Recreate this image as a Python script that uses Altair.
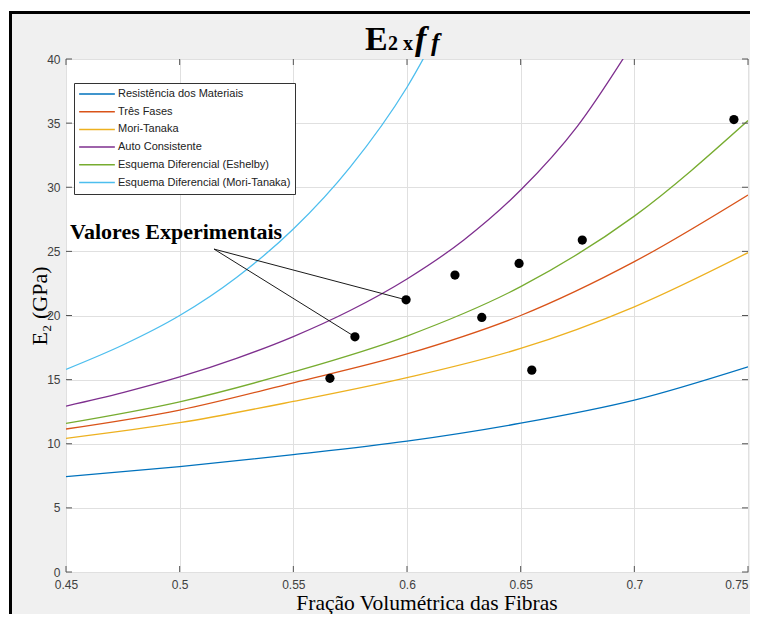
import altair as alt
import pandas as pd

# ---------------- data ----------------
MODELS = [
    "Resistência dos Materiais",
    "Três Fases",
    "Mori-Tanaka",
    "Auto Consistente",
    "Esquema Diferencial (Eshelby)",
    "Esquema Diferencial (Mori-Tanaka)",
]
COLORS = ["#0072BD", "#D95319", "#EDB120", "#7E2F8E", "#77AC30", "#4DBEEE"]

X_GRID = [0.45, 0.5, 0.55, 0.6, 0.65, 0.7, 0.75]
E_RM = [7.43, 8.21, 9.15, 10.2, 11.6, 13.4, 16.0]
E_TF = [11.15, 12.63, 14.75, 17.0, 20.0, 24.2, 29.4]
E_MT = [10.42, 11.64, 13.3, 15.15, 17.43, 20.68, 24.9]
E_DE = [11.59, 13.27, 15.6, 18.4, 22.25, 27.75, 35.2]

X_AC = [0.45, 0.475, 0.5, 0.525, 0.55, 0.575, 0.6, 0.625, 0.65, 0.675, 0.7]
E_AC = [12.94, 13.99, 15.21, 16.66, 18.36, 20.39, 22.85, 25.89, 29.78, 34.77, 41.4]

X_DMT = [0.45, 0.475, 0.5, 0.525, 0.55, 0.575, 0.6, 0.625]
E_DMT = [15.8, 17.7, 20.0, 22.97, 26.74, 31.57, 37.8, 46.1]

EXP_F = [0.5661, 0.5771, 0.5996, 0.6211, 0.6329, 0.6493, 0.6549, 0.6771, 0.7438]
EXP_E = [15.10, 18.34, 21.22, 23.15, 19.85, 24.06, 15.74, 25.88, 35.28]

X_TICKS = [0.45, 0.5, 0.55, 0.6, 0.65, 0.7, 0.75]
Y_TICKS = [0, 5, 10, 15, 20, 25, 30, 35, 40]

ANN_TEXT = "Valores Experimentais"
ANN_POS = (0.4518, 25.95)
ANN_ORIGIN = (0.5151, 25.18)
ANN_TARGETS = [2, 1]  # indices into experimental points

TITLE_X = "Fração Volumétrica das Fibras"
TITLE_Y = "E\u2082 (GPa)"

# ---------------- tables ----------------
rows = []
for name, xs, ys in [
    (MODELS[0], X_GRID, E_RM),
    (MODELS[1], X_GRID, E_TF),
    (MODELS[2], X_GRID, E_MT),
    (MODELS[3], X_AC, E_AC),
    (MODELS[4], X_GRID, E_DE),
    (MODELS[5], X_DMT, E_DMT),
]:
    for xv, yv in zip(xs, ys):
        rows.append({"model": name, "f": xv, "E": yv})
curves_df = pd.DataFrame(rows)
exp_df = pd.DataFrame({"f": EXP_F, "E": EXP_E})
ann_df = pd.DataFrame({"f": [ANN_POS[0]], "E": [ANN_POS[1]], "t": [ANN_TEXT]})
arrow_df = pd.DataFrame({
    "f": [ANN_ORIGIN[0]] * len(ANN_TARGETS),
    "E": [ANN_ORIGIN[1]] * len(ANN_TARGETS),
    "f2": [EXP_F[i] for i in ANN_TARGETS],
    "E2": [EXP_E[i] for i in ANN_TARGETS],
})
xt_df = pd.DataFrame({"f": X_TICKS})
yt_df = pd.DataFrame({"E": Y_TICKS})

W, H = 682, 513

xscale = alt.Scale(domain=[0.45, 0.75], nice=False, zero=False)
yscale = alt.Scale(domain=[0, 40], nice=False, zero=False)
x_axis = alt.Axis(values=X_TICKS, format=".2~f", title=None, grid=True, gridColor="#e0e0e0",
                  ticks=False, domain=False, labelFont="Liberation Sans", labelFontSize=12,
                  labelColor="#404040", labelPadding=7, labelFlush=False, labelOverlap=False,
                  labelAlign=alt.ExprRef(expr="datum.value >= 0.749 ? 'right' : 'center'"))
y_axis = alt.Axis(values=Y_TICKS, format="d", title=None, grid=True, gridColor="#e0e0e0",
                  ticks=False, domain=False, labelFont="Liberation Sans", labelFontSize=12,
                  labelColor="#404040", labelPadding=6, labelFlush=False, labelOverlap=False)

X = alt.X("f:Q", scale=xscale, axis=x_axis)
Y = alt.Y("E:Q", scale=yscale, axis=y_axis)

curves = alt.Chart(curves_df).mark_line(strokeWidth=1.3, clip=True, interpolate="monotone").encode(
    x=X, y=Y,
    color=alt.Color("model:N", scale=alt.Scale(domain=MODELS, range=COLORS),
                    legend=alt.Legend(orient="none", legendX=8, legendY=24, title=None,
                                      fillColor="white", strokeColor="#333333", padding=4,
                                      symbolType="stroke", symbolSize=1275, symbolStrokeWidth=1.5,
                                      labelFont="Liberation Sans", labelFontSize=11,
                                      labelColor="#222222", labelLimit=300, clipHeight=14,
                                      rowPadding=3.7, labelOffset=2, cornerRadius=0)),
)

arrows = alt.Chart(arrow_df).mark_rule(color="#1a1a1a", strokeWidth=1).encode(
    x=X, y=Y, x2="f2:Q", y2="E2:Q")

dots = alt.Chart(exp_df).mark_circle(size=85, color="black", opacity=1).encode(x=X, y=Y)

ann = alt.Chart(ann_df).mark_text(font="Liberation Serif", fontSize=22, fontWeight="bold",
                                  align="left", baseline="alphabetic", color="black").encode(
    x=X, y=Y, text="t:N")

tick_col = "#555555"
xt_top = alt.Chart(xt_df).mark_rule(color=tick_col).encode(x=X, y=alt.value(0), y2=alt.value(6))
xt_bot = alt.Chart(xt_df).mark_rule(color=tick_col).encode(x=X, y=alt.value(H), y2=alt.value(H - 6))
yt_left = alt.Chart(yt_df).mark_rule(color=tick_col).encode(y=Y, x=alt.value(0), x2=alt.value(6))
yt_right = alt.Chart(yt_df).mark_rule(color=tick_col).encode(y=Y, x=alt.value(W), x2=alt.value(W - 6))


def txt(s, px, py, size, weight="normal", style="normal", align="left",
        baseline="alphabetic", angle=0, font="Liberation Serif"):
    return alt.Chart(pd.DataFrame({"t": [s]})).mark_text(
        font=font, fontSize=size, fontWeight=weight, fontStyle=style, align=align,
        baseline=baseline, angle=angle, color="black").encode(
        text="t:N", x=alt.value(px), y=alt.value(py))


one = pd.DataFrame({"a": [0]})


def hline(py, x1, x2, color, width):
    return alt.Chart(one).mark_rule(color=color, strokeWidth=width).encode(
        x=alt.value(x1), x2=alt.value(x2), y=alt.value(py))


def vline(px, y1, y2, color, width):
    return alt.Chart(one).mark_rule(color=color, strokeWidth=width).encode(
        x=alt.value(px), y=alt.value(y1), y2=alt.value(y2))


frame = [
    hline(-49.5, -60, W + 2, "white", 3),
    vline(-57.5, -60, H + 45, "white", 2),
    hline(-46.5, -57, W + 2, "black", 3),
    vline(-55.5, -48, H + 45, "black", 3),
]

titles = [
    txt("E", 299, -9, 34, weight="bold"),
    txt("2 x", 322, -9, 20, weight="bold"),
    txt("f", 349, -9, 34, weight="bold", style="italic"),
    txt("f", 365, -8, 26, weight="bold", style="italic"),
    txt(TITLE_X, 361, 551, 21.5, align="center"),
    txt(TITLE_Y, -26, 247, 22, align="center", baseline="middle", angle=270),
]

chart = alt.layer(
    *frame, curves, xt_top, xt_bot, yt_left, yt_right, arrows, dots, ann, *titles
).properties(
    width=W, height=H,
    autosize=alt.AutoSizeParams(type="none"),
    padding={"left": 58, "top": 51, "right": 2, "bottom": 42},
    background="#f0f0f0",
).configure_view(stroke="#7a7a7a", strokeWidth=1, fill="white")

chart.save("out.html", embed_options={"renderer": "svg", "actions": False})
